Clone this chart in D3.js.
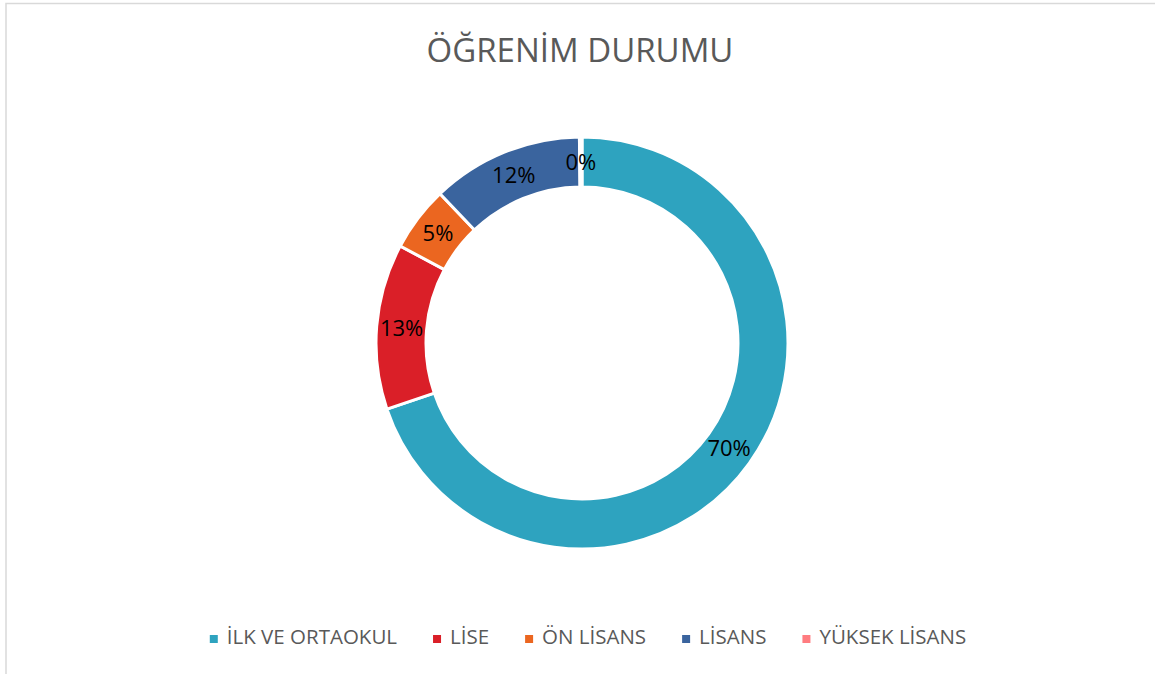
<!DOCTYPE html>
<html>
<head>
<meta charset="utf-8">
<script src="https://cdn.jsdelivr.net/npm/d3@7"></script>
<style>
  body { margin: 0; background: #fff; }
  text { font-family: "Open Sans", sans-serif; }
</style>
</head>
<body>
<div id="chart"></div>
<script>
// Data
var categories = ["İLK VE ORTAOKUL", "LİSE", "ÖN LİSANS", "LİSANS", "YÜKSEK LİSANS"];
var shares = [69.8, 13.0, 5.1, 11.9, 0.2];
var colors = ["#2EA3BF", "#DA1F28", "#EB6620", "#3A649E", "#FF7C80"];

var width = 1155,
    height = 674;

var cx = 582, cy = 343;
var outerR = 206, innerR = 156;

var svg = d3.select("#chart").append("svg")
    .attr("width", width)
    .attr("height", height);

svg.append("rect")
    .attr("width", width)
    .attr("height", height)
    .attr("fill", "#fff");

// chart area border (only top and left are in frame)
svg.append("rect")
    .attr("x", 6)
    .attr("y", 3.5)
    .attr("width", width + 20)
    .attr("height", height + 20)
    .attr("fill", "none")
    .attr("stroke", "#d9d9d9")
    .attr("stroke-width", 1.5);

// Title
svg.append("text")
    .attr("x", 580)
    .attr("y", 62)
    .attr("text-anchor", "middle")
    .attr("font-size", 33)
    .attr("fill", "#595959")
    .text("ÖĞRENİM DURUMU");

var pie = d3.pie().sort(null).value(function(d) { return d; });
var arc = d3.arc().innerRadius(innerR).outerRadius(outerR);
var labelArc = d3.arc().innerRadius((innerR + outerR) / 2).outerRadius((innerR + outerR) / 2);

var g = svg.append("g")
    .attr("transform", "translate(" + cx + "," + cy + ")");

var slices = pie(shares);

g.selectAll("path")
    .data(slices)
    .enter().append("path")
    .attr("d", arc)
    .attr("fill", function(d, i) { return colors[i]; })
    .attr("stroke", "#fff")
    .attr("stroke-width", 3);

g.selectAll(".pct")
    .data(slices)
    .enter().append("text")
    .attr("class", "pct")
    .attr("transform", function(d) { return "translate(" + labelArc.centroid(d) + ")"; })
    .attr("text-anchor", "middle")
    .attr("dy", "0.36em")
    .attr("font-size", 22)
    .attr("fill", "#000")
    .text(function(d) { return Math.round(d.data) + "%"; });

// Legend
var legend = svg.append("g");
var items = legend.selectAll("g")
    .data(categories)
    .enter().append("g");

items.append("rect")
    .attr("width", 8)
    .attr("height", 8)
    .attr("y", -9)
    .attr("fill", function(d, i) { return colors[i]; });

items.append("text")
    .attr("x", 17)
    .attr("y", 0)
    .attr("font-size", 20.5)
    .attr("fill", "#595959")
    .text(function(d) { return d; });

var gap = 36;
var xPos = 0;
items.each(function() {
  var w = d3.select(this).select("text").node().getComputedTextLength();
  d3.select(this).attr("transform", "translate(" + xPos + ",0)");
  xPos += 17 + w + gap;
});
var total = xPos - gap;
legend.attr("transform", "translate(" + (588 - total / 2) + ",644)");
</script>
</body>
</html>
